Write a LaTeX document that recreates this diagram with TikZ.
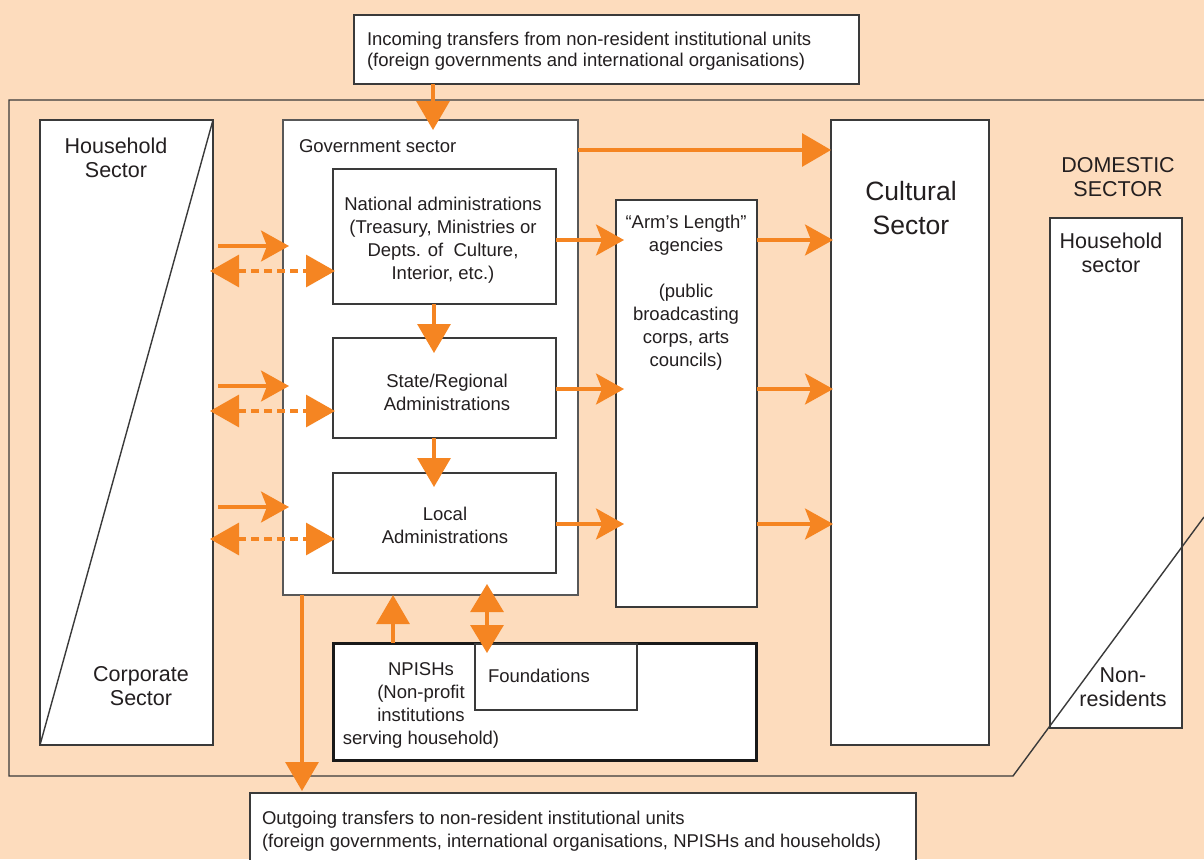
\documentclass[tikz,border=0pt]{standalone}
\usepackage{fontspec}
\setmainfont{Liberation Sans}
\usetikzlibrary{arrows.meta}
\definecolor{bgpeach}{HTML}{FDDCBD}
\definecolor{orng}{HTML}{F58522}
\definecolor{ink}{HTML}{231F20}
\definecolor{edge}{HTML}{3A3A3A}
\tikzset{
  wbox/.style={draw=edge, line width=1.4pt, fill=white, inner sep=0pt, outer sep=0pt},
  txt/.style={inner sep=0pt, outer sep=0pt, text=ink, font=\fontsize{18.5}{23}\selectfont},
  bigtxt/.style={inner sep=0pt, outer sep=0pt, text=ink, font=\fontsize{21.5}{24}\selectfont},
  hugetxt/.style={inner sep=0pt, outer sep=0pt, text=ink, font=\fontsize{26.5}{34}\selectfont},
  oarr/.style={draw=orng, line width=3.2pt, -{Triangle[length=29pt,width=33pt]}},
  sarr/.style={draw=orng, line width=3.2pt, -{Stealth[length=28pt,width=31pt,inset=6pt]}},
  darr/.style={draw=orng, line width=3.2pt, dash pattern=on 8pt off 5pt,
    {Triangle[length=29pt,width=32pt]}-{Triangle[length=29pt,width=32pt]}},
  dbl/.style={draw=orng, line width=3.2pt,
    {Triangle[length=28pt,width=33pt]}-{Triangle[length=28pt,width=33pt]}},
}
\begin{document}
\begin{tikzpicture}[x=1pt, y=-1pt]
\useasboundingbox (0,0) rectangle (1204,859);
\fill[bgpeach] (0,0) rectangle (1204,859);

% boxes
\node[wbox, minimum width=505pt, minimum height=69pt] (top) at (606.5,49.5) {};
\node[wbox, minimum width=666pt, minimum height=80pt] (out) at (583,833) {};
\node[wbox, minimum width=132pt, minimum height=510pt] (rhh) at (1116,473) {};
\node[wbox, minimum width=173pt, minimum height=625pt] (hh) at (126.5,432.5) {};
\draw[draw=edge, line width=1.4pt] (hh.north east) -- (hh.south west);
\node[wbox, draw=edge!85, line width=1.2pt, minimum width=295pt, minimum height=475pt] (gov) at (430.5,357.5) {};
\node[wbox, minimum width=223pt, minimum height=135pt] (nat) at (444.5,236.5) {};
\node[wbox, minimum width=223pt, minimum height=100pt] (state) at (444.5,388) {};
\node[wbox, minimum width=223pt, minimum height=100pt] (local) at (444.5,523) {};
\node[wbox, minimum width=141pt, minimum height=407pt] (arm) at (686.5,403.5) {};
\node[wbox, minimum width=158pt, minimum height=625pt] (cult) at (910,432.5) {};
\node[wbox, draw=black!90, line width=3pt, minimum width=423pt, minimum height=117pt] (npish) at (544.5,701.5) {};
\node[wbox, minimum width=162pt, minimum height=66pt] (found) at (556,677) {};

% domestic frame
\draw[draw=edge, line width=1.4pt] (1204,100) -- (9,100) -- (9,776) -- (1013,776) -- (1204,517);

% texts
\node[txt, anchor=west, align=left, font=\fontsize{18.5}{21}\selectfont] (tIn) at (367,51)
  {Incoming transfers from non-resident institutional units\\(foreign governments and international organisations)};
\node[txt, anchor=west, align=left] (tOut) at (262,831.5)
  {Outgoing transfers to non-resident institutional units\\(foreign governments, international organisations, NPISHs and households)};
\node[bigtxt, align=center] (tHH) at (116,158) {Household\\Sector};
\node[bigtxt, align=center] (tCorp) at (141,686) {Corporate\\Sector};
\node[txt, anchor=west] (tGov) at (299,146.5) {Government sector};
\node[txt, align=center] (tNat) at (443,240)
  {National administrations\\(Treasury, Ministries or\\Depts. of\ \ Culture,\\Interior, etc.)};
\node[txt, align=center] (tState) at (447,392) {State/Regional\\Administrations};
\node[txt, align=center] (tLocal) at (445,525) {Local\\Administrations};
\node[txt, align=center] (tArm) at (686,293)
  {“Arm’s Length”\\agencies\\[23pt](public\\broadcasting\\corps, arts\\councils)};
\node[hugetxt, align=center] (tCult) at (911,208) {Cultural\\Sector};
\node[bigtxt, align=center] (tDom) at (1118,177) {DOMESTIC\\SECTOR};
\node[bigtxt, align=center] (tRhh) at (1111,253) {Household\\sector};
\node[bigtxt, align=center] (tNon) at (1123,687) {Non-\\residents};
\node[txt, align=center] (tNp) at (421,705)
  {NPISHs\\(Non-profit\\institutions\\serving household)};
\node[txt, anchor=west] (tFound) at (488,675.5) {Foundations};

% helper coordinates
\coordinate (inX) at (433,130);
\coordinate (y150) at (0,150);
\coordinate (r1) at (0,240);
\coordinate (r2) at (0,389);
\coordinate (r3) at (0,524);
\coordinate (s1) at (0,246);
\coordinate (s2) at (0,386);
\coordinate (s3) at (0,507);
\coordinate (d1) at (0,271);
\coordinate (d2) at (0,411);
\coordinate (d3) at (0,539);
\coordinate (cx) at (434,0);
\coordinate (npx) at (393,0);
\coordinate (fx) at (487,0);
\coordinate (ox) at (302,0);

% arrows
\draw[oarr] (inX |- top.south) -- (inX);
\draw[oarr] (gov.east |- y150) -- (cult.west |- y150);
\foreach \r/\src in {r1/nat, r2/state, r3/local}{
  \draw[sarr] (\src.east |- \r) -- ([xshift=8pt]arm.west |- \r);
  \draw[sarr] (arm.east |- \r) -- ([xshift=2pt]cult.west |- \r);
}
\foreach \s in {s1,s2,s3}{
  \draw[sarr] ([xshift=5pt]hh.east |- \s) -- ([xshift=6pt]gov.west |- \s);
}
\draw[darr] ([xshift=-3pt]hh.east |- d1) -- ([xshift=2pt]nat.west |- d1);
\draw[darr] ([xshift=-3pt]hh.east |- d2) -- ([xshift=2pt]state.west |- d2);
\draw[darr] ([xshift=-3pt]hh.east |- d3) -- ([xshift=2pt]local.west |- d3);
\draw[oarr] (nat.south -| cx) -- ([yshift=-15pt]state.north -| cx);
\draw[oarr] (state.south -| cx) -- ([yshift=-14pt]local.north -| cx);
\draw[oarr] (npish.north -| npx) -- (gov.south -| npx);
\draw[dbl] ([yshift=11pt]gov.south -| fx) -- ([yshift=-9pt]found.north -| fx);
\draw[oarr] (gov.south -| ox) -- ([yshift=2pt]out.north -| ox);
\end{tikzpicture}
\end{document}
